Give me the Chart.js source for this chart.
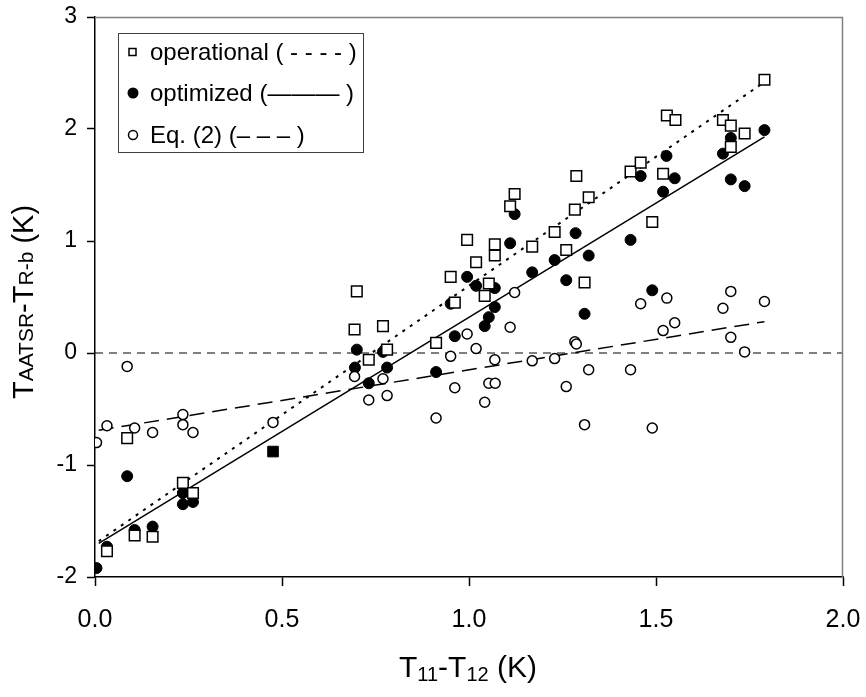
<!DOCTYPE html>
<html>
<head>
<meta charset="utf-8">
<script src="https://cdn.jsdelivr.net/npm/chart.js@4.4.0/dist/chart.umd.min.js"></script>
<style>
  html, body { margin: 0; padding: 0; background: #fff; }
  #wrap { width: 866px; height: 697px; }
</style>
</head>
<body>
<div id="wrap"><canvas id="chart" width="866" height="697"></canvas></div>
<script>
// operational (open squares)
const opX = [0.032, 0.086, 0.106, 0.154, 0.235, 0.262, 0.694, 0.70, 0.732, 0.770, 0.781, 0.912, 0.951, 0.962, 0.995, 1.019, 1.042, 1.053, 1.069, 1.069, 1.11, 1.122, 1.169, 1.229, 1.26, 1.283, 1.287, 1.309, 1.32, 1.432, 1.459, 1.49, 1.519, 1.529, 1.552, 1.679, 1.70, 1.70, 1.737, 1.79];
const opY = [-1.77, -0.76, -1.63, -1.64, -1.16, -1.25, 0.21, 0.55, -0.06, 0.24, 0.03, 0.09, 0.68, 0.45, 1.01, 0.81, 0.51, 0.62, 0.97, 0.87, 1.31, 1.42, 0.95, 1.08, 0.92, 1.28, 1.58, 0.63, 1.39, 1.62, 1.70, 1.17, 1.60, 2.12, 2.08, 2.08, 2.03, 1.84, 1.96, 2.44];

// optimized (filled circles)
const optX = [0.004, 0.032, 0.086, 0.106, 0.154, 0.235, 0.235, 0.262, 0.695, 0.70, 0.732, 0.77, 0.781, 0.912, 0.951, 0.962, 0.995, 1.019, 1.042, 1.053, 1.069, 1.069, 1.11, 1.122, 1.169, 1.229, 1.26, 1.285, 1.309, 1.32, 1.432, 1.459, 1.49, 1.519, 1.528, 1.55, 1.679, 1.70, 1.70, 1.737, 1.79];
const optY = [-1.92, -1.73, -1.10, -1.58, -1.55, -1.25, -1.35, -1.33, -0.13, 0.03, -0.27, 0.01, -0.13, -0.17, 0.44, 0.15, 0.68, 0.60, 0.24, 0.32, 0.58, 0.41, 0.98, 1.24, 0.72, 0.83, 0.65, 1.07, 0.35, 0.87, 1.01, 1.58, 0.56, 1.44, 1.76, 1.56, 1.78, 1.92, 1.55, 1.49, 1.99];

// the single filled square
const boxX = [0.476];
const boxY = [-0.88];

// Eq. (2) (open circles)
const eqX = [0.004, 0.032, 0.086, 0.106, 0.154, 0.235, 0.235, 0.262, 0.476, 0.694, 0.732, 0.77, 0.781, 0.912, 0.951, 0.962, 0.995, 1.019, 1.042, 1.053, 1.07, 1.069, 1.11, 1.122, 1.169, 1.229, 1.26, 1.283, 1.287, 1.309, 1.32, 1.432, 1.459, 1.49, 1.519, 1.529, 1.55, 1.679, 1.70, 1.70, 1.737, 1.79];
const eqY = [-0.80, -0.65, -0.12, -0.67, -0.71, -0.55, -0.64, -0.71, -0.62, -0.21, -0.42, -0.23, -0.38, -0.58, -0.03, -0.31, 0.17, 0.04, -0.44, -0.27, -0.27, -0.06, 0.23, 0.54, -0.07, -0.05, -0.30, 0.10, 0.08, -0.64, -0.15, -0.15, 0.44, -0.67, 0.20, 0.49, 0.27, 0.40, 0.55, 0.14, 0.01, 0.46];

// regression lines (end points)
const fitX = [0.01, 1.79];
const opFit = [-1.68, 2.42];
const optFit = [-1.70, 1.93];
const eqFit = [-0.69, 0.28];
const zeroX = [0, 2];
const zeroY = [0, 0];

const xTicks = [0, 0.5, 1.0, 1.5, 2.0];
const yTicks = [-2, -1, 0, 1, 2, 3];
const legendLabels = ['operational ( - - - - )', 'optimized (\u2014\u2014\u2014 )', 'Eq. (2) (\u2013 \u2013 \u2013 )'];

const FONT = "'Liberation Sans', Arial, sans-serif";

function pts(xs, ys) {
  return xs.map((x, i) => ({ x: x, y: ys[i] }));
}

function lineSet(xs, ys, dash, width) {
  return {
    type: 'line',
    data: pts(xs, ys),
    borderColor: '#000',
    borderWidth: width,
    borderDash: dash,
    pointRadius: 0,
    fill: false,
    order: 10
  };
}

// draws mixed-size text (main + small parts), centred on 0
function drawParts(ctx, parts) {
  let w = 0;
  parts.forEach(p => { ctx.font = p[1] + 'px ' + FONT; w += ctx.measureText(p[0]).width; });
  let cx = -w / 2;
  parts.forEach(p => {
    ctx.font = p[1] + 'px ' + FONT;
    ctx.fillText(p[0], cx, p[2]);
    cx += ctx.measureText(p[0]).width;
  });
}

// frame, axis titles and boxed legend
const decor = {
  id: 'decor',
  afterDraw(chart) {
    const ctx = chart.ctx;
    const a = chart.chartArea;
    ctx.save();
    ctx.strokeStyle = '#808080';
    ctx.lineWidth = 1.5;
    ctx.beginPath();
    ctx.moveTo(a.left, a.top + 0.5);
    ctx.lineTo(a.right - 0.5, a.top + 0.5);
    ctx.lineTo(a.right - 0.5, a.bottom);
    ctx.stroke();

    ctx.fillStyle = '#000';
    ctx.textBaseline = 'alphabetic';

    // x title: T11-T12 (K)
    ctx.translate(468, 677);
    drawParts(ctx, [['T', 30, 0], ['11', 20, 4], ['-T', 30, 0], ['12', 20, 4], [' (K)', 30, 0]]);
    ctx.setTransform(1, 0, 0, 1, 0, 0);

    // y title: TAATSR-TR-b (K)
    ctx.translate(33, 302);
    ctx.rotate(-Math.PI / 2);
    drawParts(ctx, [['T', 29, 0], ['AATSR', 21, 0], ['-T', 29, 0], ['R-b', 21, 0], [' (K)', 29, 0]]);
    ctx.setTransform(1, 0, 0, 1, 0, 0);

    // legend box
    ctx.fillStyle = '#fff';
    ctx.fillRect(118, 33, 245, 119);
    ctx.strokeStyle = '#404040';
    ctx.lineWidth = 1;
    ctx.strokeRect(118.5, 33.5, 245, 119);
    const rows = [52, 93, 135];
    ctx.font = '24px ' + FONT;
    ctx.textBaseline = 'middle';
    legendLabels.forEach((txt, i) => {
      const y = rows[i];
      ctx.lineWidth = 1.5;
      ctx.strokeStyle = '#000';
      ctx.fillStyle = '#000';
      if (i === 0) {
        ctx.fillStyle = '#fff';
        ctx.fillRect(129, y - 3.5, 7, 7);
        ctx.strokeRect(129, y - 3.5, 7, 7);
      } else if (i === 1) {
        ctx.beginPath();
        ctx.arc(133, y, 5.5, 0, Math.PI * 2);
        ctx.fill();
      } else {
        ctx.beginPath();
        ctx.arc(133, y, 4.5, 0, Math.PI * 2);
        ctx.stroke();
      }
      ctx.fillStyle = '#000';
      ctx.fillText(txt, 150, y + 1);
    });
    ctx.restore();
  }
};

new Chart(document.getElementById('chart'), {
  type: 'scatter',
  data: {
    datasets: [
      {
        label: 'operational',
        data: pts(opX, opY),
        pointStyle: 'rect',
        pointRadius: 7.5,
        pointBorderWidth: 1.5,
        pointBorderColor: '#000',
        pointBackgroundColor: '#fff',
        order: 1
      },
      {
        label: 'optimized',
        data: pts(optX, optY),
        pointStyle: 'circle',
        pointRadius: 5.5,
        pointBorderWidth: 1,
        pointBorderColor: '#000',
        pointBackgroundColor: '#000',
        order: 3
      },
      {
        label: 'optimized (box)',
        data: pts(boxX, boxY),
        pointStyle: 'rect',
        pointRadius: 7.5,
        pointBorderWidth: 1,
        pointBorderColor: '#000',
        pointBackgroundColor: '#000',
        order: 3
      },
      {
        label: 'Eq. (2)',
        data: pts(eqX, eqY),
        pointStyle: 'circle',
        pointRadius: 5,
        pointBorderWidth: 1.5,
        pointBorderColor: '#000',
        pointBackgroundColor: '#fff',
        order: 2
      },
      lineSet(fitX, opFit, [3, 6], 2),
      lineSet(fitX, optFit, [], 1.5),
      lineSet(fitX, eqFit, [15, 8], 1.5),
      lineSet(zeroX, zeroY, [8, 6], 1)
    ]
  },
  options: {
    responsive: false,
    animation: false,
    layout: { padding: { top: 17, right: 23, left: 0, bottom: 0 } },
    plugins: {
      legend: { display: false },
      tooltip: { enabled: false }
    },
    scales: {
      x: {
        type: 'linear',
        min: 0,
        max: 2,
        afterBuildTicks: s => { s.ticks = xTicks.map(v => ({ value: v })); },
        afterFit: s => { s.height = 120; s.paddingRight = 0; s.paddingLeft = 0; },
        ticks: {
          color: '#000',
          font: { family: FONT, size: 25 },
          padding: 19,
          maxRotation: 0,
          callback: v => v.toFixed(1)
        },
        grid: { drawOnChartArea: false, drawTicks: true, tickLength: 9, tickColor: '#000', tickWidth: 1.5 },
        border: { color: '#000', width: 1.5 }
      },
      y: {
        type: 'linear',
        min: -2,
        max: 3,
        afterBuildTicks: s => { s.ticks = yTicks.map(v => ({ value: v })); },
        afterFit: s => { s.width = 95; s.paddingTop = 0; },
        ticks: {
          color: '#000',
          font: { family: FONT, size: 23 },
          padding: 10,
          callback: v => String(v)
        },
        grid: { drawOnChartArea: false, drawTicks: true, tickLength: 8, tickColor: '#000', tickWidth: 1.5 },
        border: { color: '#000', width: 1.5 }
      }
    }
  },
  plugins: [decor]
});
</script>
</body>
</html>
